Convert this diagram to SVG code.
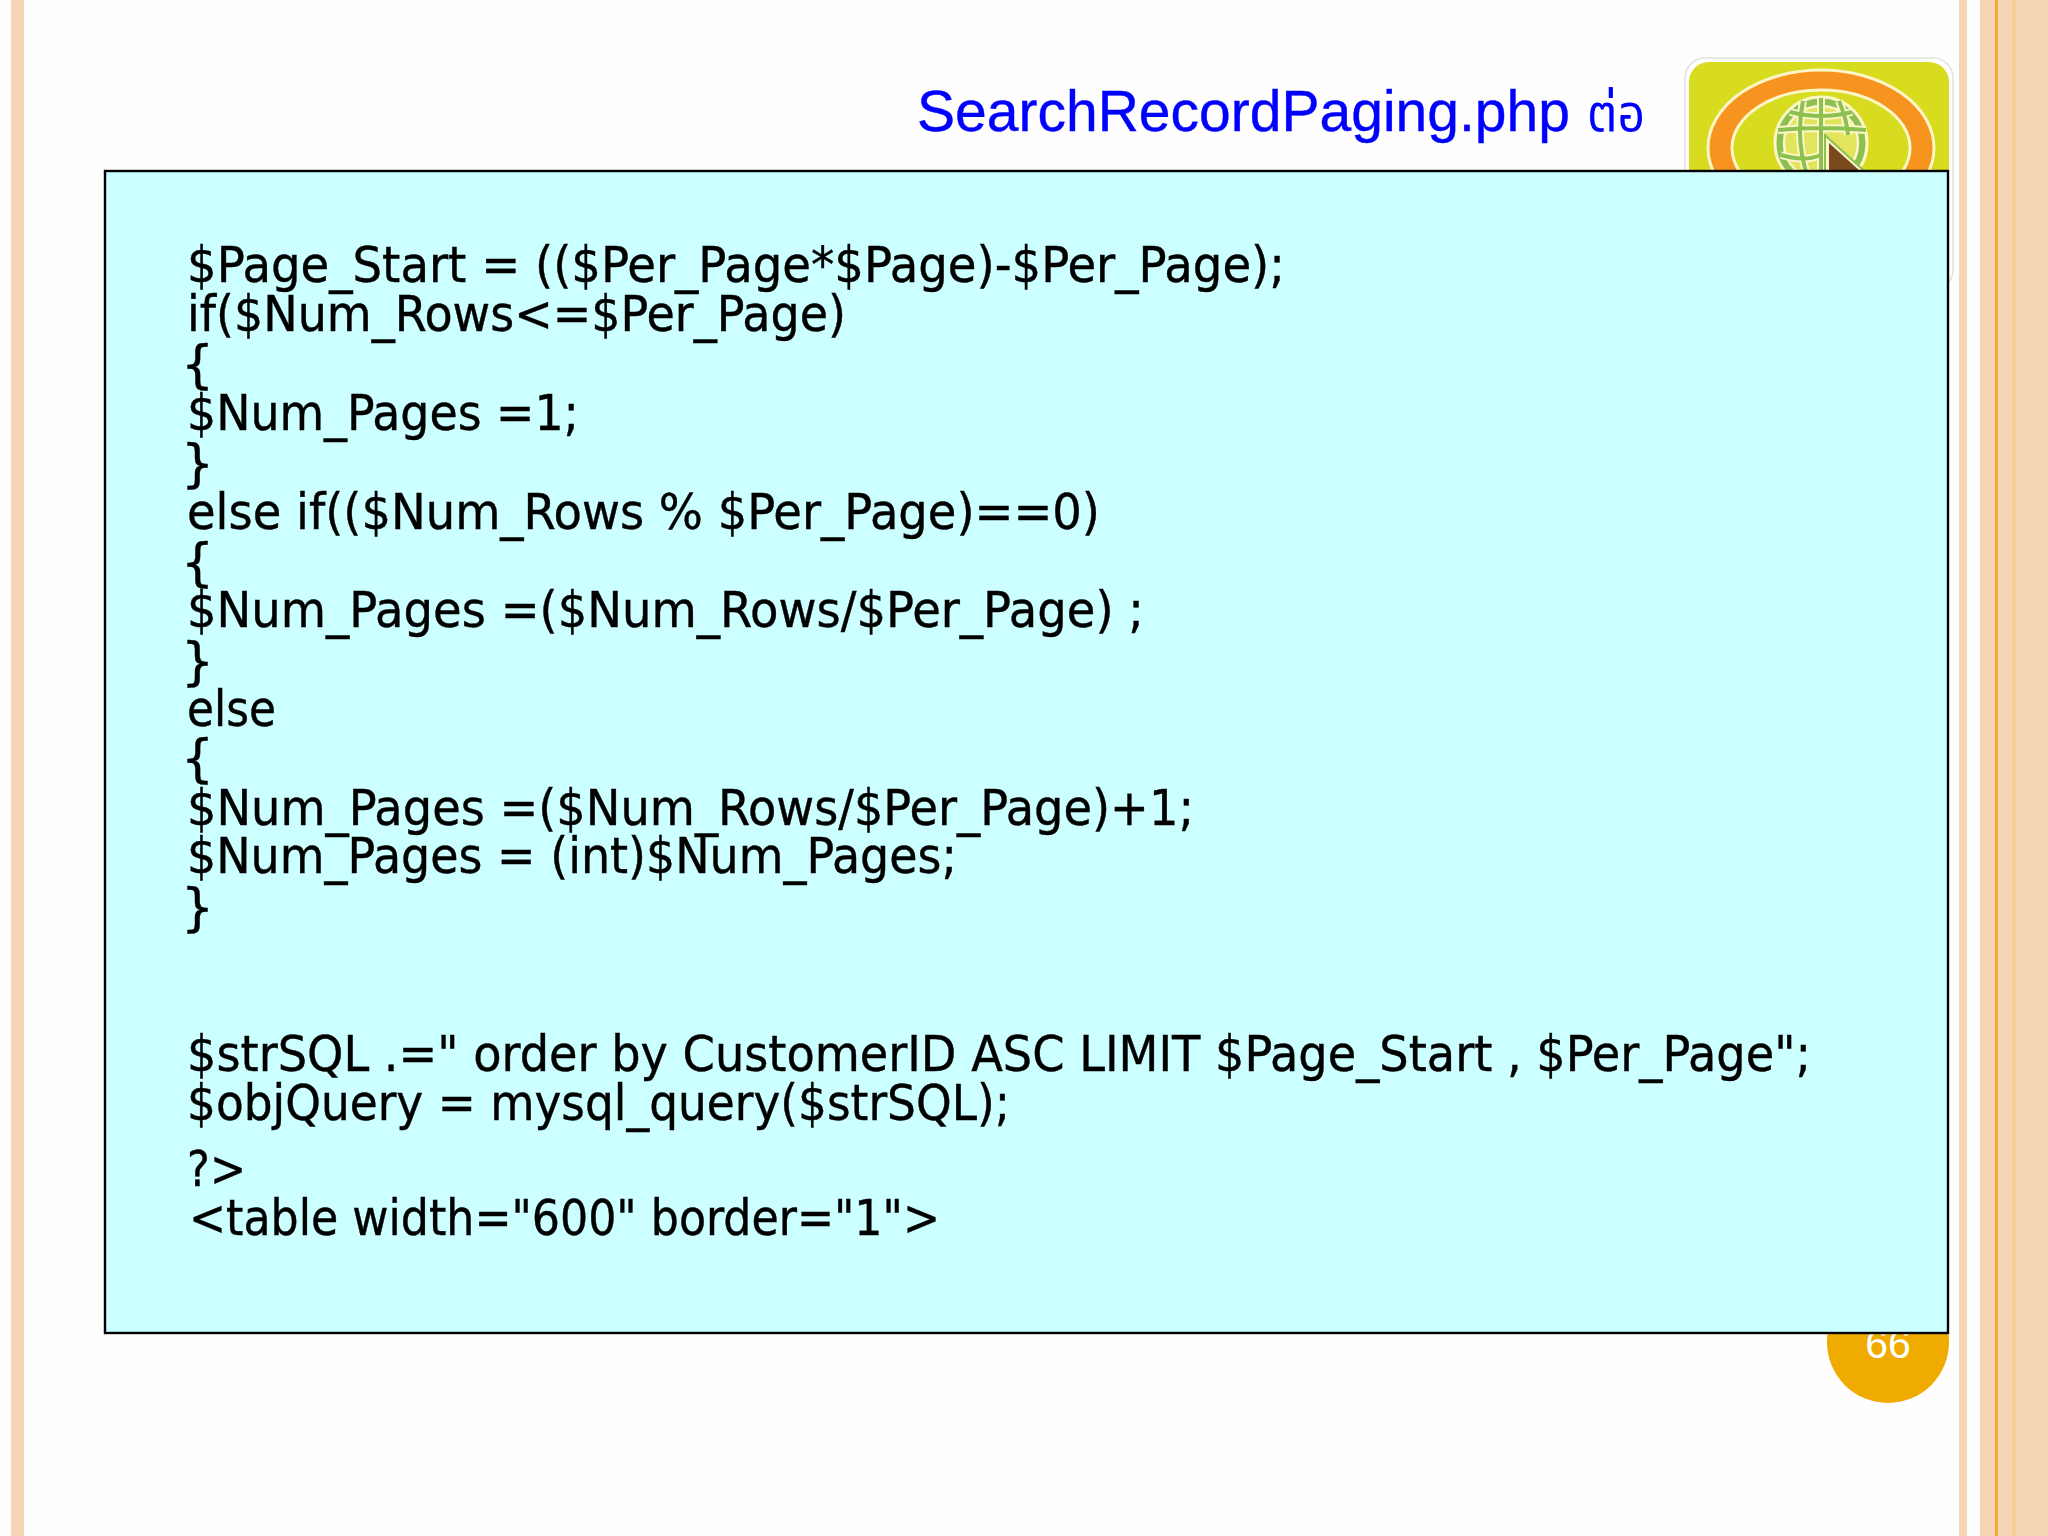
<svg xmlns="http://www.w3.org/2000/svg" width="2048" height="1536" viewBox="0 0 2048 1536">
<style>
.code{font-family:"DejaVu Sans Condensed","DejaVu Sans",sans-serif;font-size:50px;fill:#000;stroke:#000;stroke-width:.4}
.brace{font-family:"DejaVu Sans",sans-serif;font-size:52px;fill:#000;stroke:#000;stroke-width:.4}
.stripe{fill:#f5d5b3}
</style>
<defs>
<path id="grid" d="M1821 98V178M1803 101Q1795 140 1808 178M1839 101Q1847 120 1848 135M1778 130Q1821 126 1866 130M1781 155Q1805 162 1821 155M1790 112Q1821 120 1852 112"/>
</defs>
<rect width="2048" height="1536" fill="#fefefe"/>
<g id="stripes">
<rect class="stripe" x="11" y="0" width="13" height="1536"/>
<rect class="stripe" x="1959" y="0" width="8" height="1536"/>
<rect class="stripe" x="1980" y="0" width="68" height="1536"/>
<rect x="1995" y="0" width="3" height="1536" fill="#f2ac2c"/>
<rect x="2012" y="0" width="4" height="1536" fill="#f6cf94"/>
</g>
<g id="logo">
<rect x="1685" y="58" width="268" height="232" rx="20" fill="#fff" stroke="#e2e2dc" stroke-width="1.5"/>
<path d="M1689 172V82a20 20 0 0 1 20-20H1929a20 20 0 0 1 20 20V172Z" fill="#d7dc1e"/>
<ellipse cx="1821" cy="148" rx="113" ry="78" fill="#f7941f" stroke="#fdf6c8" stroke-width="3"/>
<ellipse cx="1821" cy="148" rx="89" ry="58" fill="#d7dc1e" stroke="#fdf6c8" stroke-width="3"/>
<circle cx="1821" cy="143" r="46" fill="#8cc152" stroke="#fdf6c8" stroke-width="3"/>
<circle cx="1821" cy="143" r="37" fill="#e2e55c" stroke="#fdf6c8" stroke-width="2.5"/>
<use href="#grid" fill="none" stroke="#fdf6c8" stroke-width="8"/>
<use href="#grid" fill="none" stroke="#8cc152" stroke-width="4"/>
<path d="M1828 142L1861 172H1828Z" fill="#8cc152" stroke="#8cc152" stroke-width="8"/>
<path d="M1828 142L1861 172H1828Z" fill="#fdf6c8" stroke="#fdf6c8" stroke-width="4"/>
<path d="M1829 143L1861 172H1829Z" fill="#7a4a1e"/>
</g>
<g id="title">
<text x="917" y="131" font-family="'Liberation Sans',sans-serif" font-size="57" fill="#0000ff" stroke="#0000ff" stroke-width=".4" textLength="653" lengthAdjust="spacingAndGlyphs">SearchRecordPaging.php</text>
<text x="1587" y="131" font-family="'Noto Sans Thai','Noto Sans','DejaVu Sans',sans-serif" font-size="52" fill="#0000ff" textLength="58" lengthAdjust="spacingAndGlyphs">ต่อ</text>
</g>
<g id="page-number">
<circle cx="1888" cy="1342" r="61" fill="#f0ab00"/>
<text x="1888" y="1358" text-anchor="middle" font-family="'Liberation Sans',sans-serif" font-size="41" fill="#fff">66</text>
</g>
<g id="code-panel">
<rect x="105" y="171" width="1843" height="1162" fill="#ccffff" stroke="#000" stroke-width="2.4"/>
<text class="code" x="187" y="282" textLength="1098" lengthAdjust="spacingAndGlyphs">$Page_Start = (($Per_Page*$Page)-$Per_Page);</text>
<text class="code" x="187" y="331" textLength="659" lengthAdjust="spacingAndGlyphs">if($Num_Rows&lt;=$Per_Page)</text>
<text class="brace" x="181" y="382">{</text>
<text class="code" x="187" y="430" textLength="392" lengthAdjust="spacingAndGlyphs">$Num_Pages =1;</text>
<text class="brace" x="181" y="481">}</text>
<text class="code" x="187" y="529" textLength="913" lengthAdjust="spacingAndGlyphs">else if(($Num_Rows % $Per_Page)==0)</text>
<text class="brace" x="181" y="580">{</text>
<text class="code" x="187" y="627" textLength="957" lengthAdjust="spacingAndGlyphs">$Num_Pages =($Num_Rows/$Per_Page) ;</text>
<text class="brace" x="181" y="679">}</text>
<text class="code" x="187" y="726" textLength="89" lengthAdjust="spacingAndGlyphs">else</text>
<text class="brace" x="181" y="776">{</text>
<text class="code" x="187" y="825" textLength="1007" lengthAdjust="spacingAndGlyphs">$Num_Pages =($Num_Rows/$Per_Page)+1;</text>
<text class="code" x="187" y="873" textLength="770" lengthAdjust="spacingAndGlyphs">$Num_Pages = (int)$Num_Pages;</text>
<text class="brace" x="181" y="925">}</text>
<text class="code" x="187" y="1071" textLength="1624" lengthAdjust="spacingAndGlyphs">$strSQL .=" order by CustomerID ASC LIMIT $Page_Start , $Per_Page";</text>
<text class="code" x="187" y="1120" textLength="823" lengthAdjust="spacingAndGlyphs">$objQuery = mysql_query($strSQL);</text>
<text class="code" x="187" y="1186" textLength="59" lengthAdjust="spacingAndGlyphs">?&gt;</text>
<text class="code" x="189" y="1235" textLength="751" lengthAdjust="spacingAndGlyphs">&lt;table width="600" border="1"&gt;</text>
</g>
</svg>
